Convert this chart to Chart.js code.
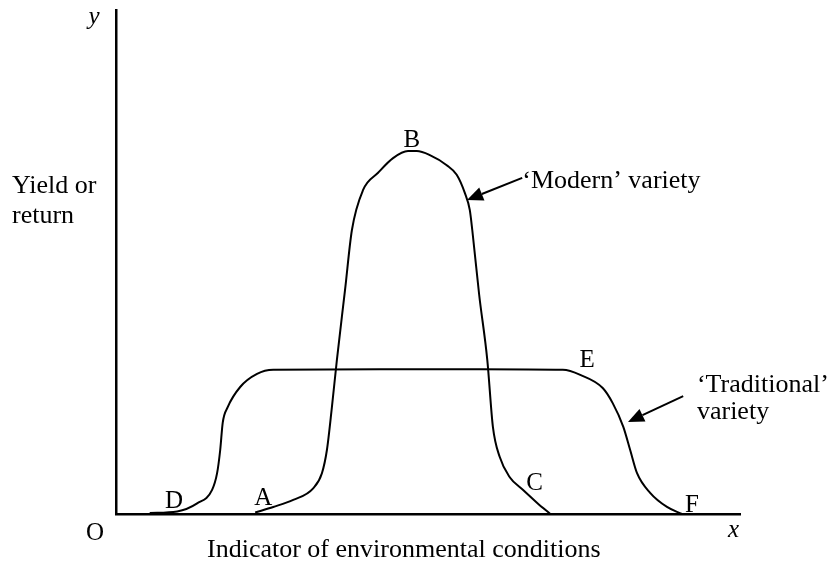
<!DOCTYPE html>
<html>
<head>
<meta charset="utf-8">
<script src="https://cdn.jsdelivr.net/npm/chart.js@4.4.1/dist/chart.umd.min.js"></script>
<style>
  html, body { margin: 0; padding: 0; background: #fff; }
  #wrap { width: 840px; height: 563px; }
</style>
</head>
<body>
<div id="wrap"><canvas id="chart" width="840" height="563"></canvas></div>
<script>
// environmental condition indicator (0-100) and yield (0-100)
const modernX = [22.3, 25.2, 28.4, 31.6, 33.0, 33.8, 34.6, 35.4, 36.7, 37.8, 39.6, 42.0, 44.4, 46.8, 48.2,
    50.3, 53.0, 54.6, 55.9, 56.7, 57.1, 58.2, 59.5, 60.4, 61.5, 63.1, 65.2, 67.5, 69.6];
const modernY = [0.3, 1.4, 2.8, 5.1, 8.1, 12.7, 21.2, 30.6, 44.4, 56.3, 64.3, 67.7, 70.6, 72.0, 72.0,
    71.2, 69.2, 67.3, 63.7, 60.3, 56.3, 43.5, 30.6, 17.3, 11.3, 7.3, 4.8, 2.2, 0];

const tradX = [5.4, 9.8, 13.0, 15.4, 16.2, 16.7, 17.1, 17.9, 19.9, 22.6, 25.2, 42.3, 58.3, 71.6, 74.4,
    78.0, 79.6, 81.3, 82.4, 83.5, 85.6, 88.3, 90.7];
const tradY = [0.2, 0.5, 2.1, 4.8, 8.1, 12.7, 18.1, 21.2, 25.2, 27.8, 28.6, 28.7, 28.7, 28.6, 27.6,
    25.0, 22.0, 17.3, 12.7, 8.1, 4.2, 1.4, 0];

const pointLetters = ['B', 'A', 'D', 'C', 'E', 'F'];
const letterX = [47.4, 23.6, 9.3, 67.1, 75.5, 92.3];
const letterY = [72.8, 1.8, 1.2, 4.8, 29.2, 0.4];

const toPoints = (xs, ys) => xs.map((x, i) => ({ x: x, y: ys[i] }));

const serif = '"Liberation Serif", "Times New Roman", serif';

// notes with arrows, in data units
const notes = [
    { lines: ['\u2018Modern\u2019 variety'], x: 65.1, y: 64.7, from: [65.1, 66.7], to: [56.25, 62.3] },
    { lines: ['\u2018Traditional\u2019', 'variety'], x: 93.1, y: 24.2, from: [90.9, 23.4], to: [82.05, 18.25] }
];

function arrow(ctx, x1, y1, x2, y2) {
    const ang = Math.atan2(y2 - y1, x2 - x1);
    const len = 16, half = 7;
    const bx = x2 - len * Math.cos(ang), by = y2 - len * Math.sin(ang);
    ctx.beginPath();
    ctx.moveTo(x1, y1);
    ctx.lineTo(bx, by);
    ctx.lineWidth = 2;
    ctx.stroke();
    ctx.beginPath();
    ctx.moveTo(x2, y2);
    ctx.lineTo(bx + half * Math.sin(ang), by - half * Math.cos(ang));
    ctx.lineTo(bx - half * Math.sin(ang), by + half * Math.cos(ang));
    ctx.closePath();
    ctx.fill();
}

const textPlugin = {
    id: 'diagramText',
    afterDraw(chart) {
        const { ctx, chartArea, scales } = chart;
        const sx = scales.x, sy = scales.y;
        ctx.save();
        ctx.fillStyle = '#000';
        ctx.strokeStyle = '#000';
        ctx.textBaseline = 'alphabetic';

        // point letters
        ctx.font = '25px ' + serif;
        ctx.textAlign = 'center';
        pointLetters.forEach((t, i) => {
            ctx.fillText(t, sx.getPixelForValue(letterX[i]), sy.getPixelForValue(letterY[i]));
        });

        // axis letters
        ctx.fillText('O', chartArea.left - 21, chartArea.bottom + 26);
        ctx.font = 'italic 25px ' + serif;
        ctx.textAlign = 'left';
        ctx.fillText('x', chartArea.right - 12, chartArea.bottom + 23);
        ctx.textAlign = 'center';
        ctx.fillText('y', chartArea.left - 22, chartArea.top + 14);

        // axis titles
        ctx.font = '26px ' + serif;
        ctx.textAlign = 'left';
        ctx.fillText('Yield or', 12, 193);
        ctx.fillText('return', 12, 223);
        ctx.fillText('Indicator of environmental conditions', 207, chartArea.bottom + 43);

        // notes + arrows
        notes.forEach(n => {
            const px = sx.getPixelForValue(n.x), py = sy.getPixelForValue(n.y);
            n.lines.forEach((l, i) => ctx.fillText(l, px, py + i * 27));
            arrow(ctx, sx.getPixelForValue(n.from[0]), sy.getPixelForValue(n.from[1]),
                sx.getPixelForValue(n.to[0]), sy.getPixelForValue(n.to[1]));
        });
        ctx.restore();
    }
};

const ctx = document.getElementById('chart').getContext('2d');
new Chart(ctx, {
    type: 'line',
    data: {
        datasets: [{
            label: 'Modern variety',
            data: toPoints(modernX, modernY),
            borderColor: '#000',
            borderWidth: 2,
            pointRadius: 0,
            cubicInterpolationMode: 'monotone',
            clip: false
        }, {
            label: 'Traditional variety',
            data: toPoints(tradX, tradY),
            borderColor: '#000',
            borderWidth: 2,
            pointRadius: 0,
            cubicInterpolationMode: 'monotone',
            clip: false
        }]
    },
    options: {
        responsive: false,
        animation: false,
        events: [],
        layout: { padding: { left: 116, right: 100, top: 10, bottom: 49 } },
        plugins: { legend: { display: false }, tooltip: { enabled: false } },
        scales: {
            x: {
                type: 'linear',
                min: 0,
                max: 100,
                ticks: { display: false },
                grid: { display: false, drawTicks: false, tickLength: 0 },
                border: { display: true, color: '#000', width: 2.5 }
            },
            y: {
                min: 0,
                max: 100,
                ticks: { display: false },
                grid: { display: false, drawTicks: false, tickLength: 0 },
                border: { display: true, color: '#000', width: 2.5 }
            }
        }
    },
    plugins: [textPlugin]
});
</script>
</body>
</html>
